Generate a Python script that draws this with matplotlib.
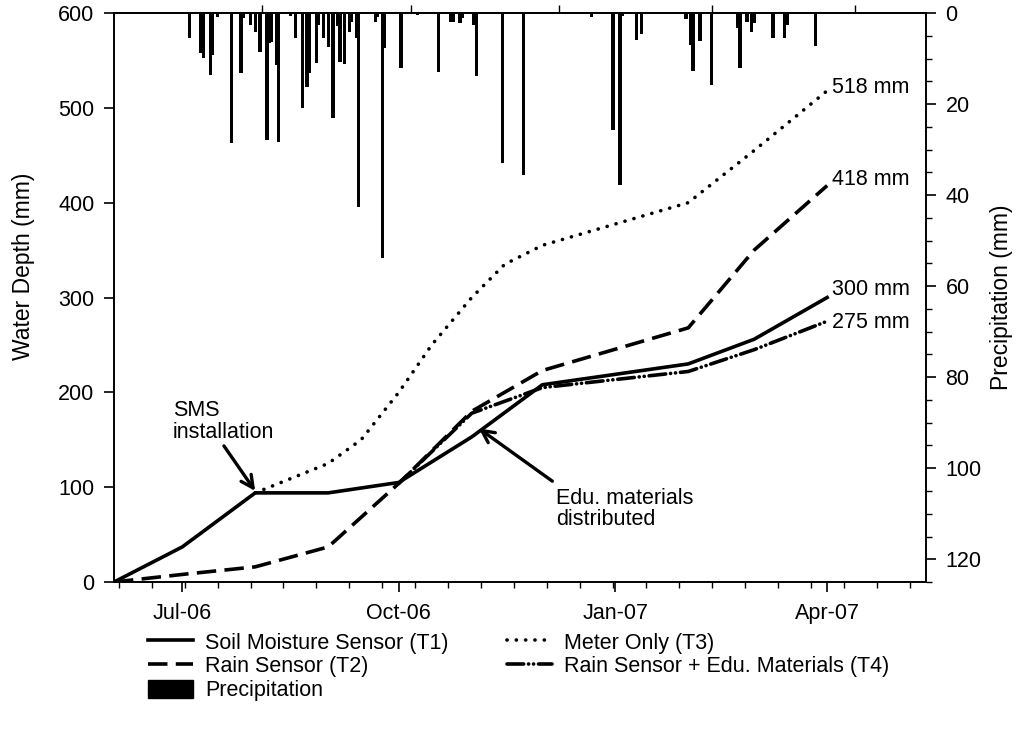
import matplotlib
matplotlib.use('Agg')
import matplotlib.pyplot as plt
import matplotlib.dates as mdates
import matplotlib.ticker as mticker
import pandas as pd
from matplotlib.patches import Patch

plt.rcParams['font.family'] = ['Liberation Sans', 'DejaVu Sans']
plt.rcParams['lines.scale_dashes'] = False

# ---------------- data ----------------
t1_dates = ['2006-06-02', '2006-07-01', '2006-08-01', '2006-09-01', '2006-10-01',
            '2006-11-01', '2006-12-01', '2007-02-01', '2007-03-01', '2007-04-01']
t1_vals = [0, 37, 94, 94, 105, 153, 208, 230, 256, 300]

t2_dates = ['2006-06-02', '2006-07-01', '2006-08-01', '2006-09-01', '2006-10-01',
            '2006-11-01', '2006-12-01', '2007-02-01', '2007-03-01', '2007-04-01']
t2_vals = [0, 8, 16, 37, 104, 180, 223, 268, 350, 418]

t3_dates = ['2006-08-01', '2006-09-01', '2006-09-15', '2006-10-01', '2006-10-15',
            '2006-11-01', '2006-11-15', '2006-12-01', '2007-02-01', '2007-03-01',
            '2007-04-01']
t3_vals = [94, 125, 150, 200, 250, 300, 335, 355, 400, 455, 518]

t4_dates = ['2006-10-01', '2006-11-01', '2006-12-01', '2007-02-01', '2007-03-01',
            '2007-04-01']
t4_vals = [104, 178, 205, 222, 245, 275]

end_labels = ['518 mm', '418 mm', '300 mm', '275 mm']
end_label_y = [521, 424, 308, 274]

precip_dates = ['2006-07-04', '2006-07-09', '2006-07-10', '2006-07-13', '2006-07-14',
                '2006-07-16', '2006-07-22', '2006-07-26', '2006-07-27', '2006-07-30',
                '2006-08-01', '2006-08-03', '2006-08-06', '2006-08-07', '2006-08-08',
                '2006-08-10', '2006-08-11', '2006-08-16', '2006-08-18', '2006-08-21',
                '2006-08-23', '2006-08-24', '2006-08-27', '2006-08-28', '2006-08-30',
                '2006-09-01', '2006-09-03', '2006-09-05', '2006-09-06', '2006-09-08',
                '2006-09-10', '2006-09-11', '2006-09-13', '2006-09-14', '2006-09-21',
                '2006-09-22', '2006-09-24', '2006-09-25', '2006-10-02', '2006-10-09',
                '2006-10-18', '2006-10-23', '2006-10-24', '2006-10-27', '2006-10-28',
                '2006-11-02', '2006-11-03', '2006-11-14', '2006-11-23', '2006-12-22',
                '2006-12-31', '2007-01-03', '2007-01-04', '2007-01-10', '2007-01-12',
                '2007-01-31', '2007-02-02', '2007-02-03', '2007-02-06', '2007-02-11',
                '2007-02-22', '2007-02-23', '2007-02-26', '2007-02-28', '2007-03-01',
                '2007-03-09', '2007-03-14', '2007-03-15', '2007-03-27', '2007-04-02']
precip_vals = [5.5, 8.8, 9.9, 13.6, 9.2,
               0.9, 28.6, 13.2, 1.0, 2.6,
               4.2, 8.6, 27.9, 6.6, 6.3,
               11.4, 28.4, 0.7, 5.5, 20.9,
               16.3, 13.2, 11.0, 2.6, 5.5,
               7.4, 23.0, 2.9, 10.7, 11.2,
               4.2, 2.0, 5.5, 42.6, 2.0,
               0.9, 53.8, 7.7, 12.1, 0.4,
               13.0, 2.0, 2.0, 2.3, 1.0,
               2.6, 13.8, 33.0, 35.6, 0.9,
               25.7, 37.8, 0.7, 5.9, 4.6,
               1.3, 7.0, 12.7, 6.2, 15.8,
               3.3, 12.0, 2.0, 4.2, 2.2,
               5.5, 5.5, 2.6, 7.3, 0.3]

x_major = ['2006-07-01', '2006-10-01', '2007-01-01', '2007-04-01']
top_ticks = ['2006-08-04', '2006-10-06', '2006-12-08', '2007-02-11', '2007-04-13']
x_range = ['2006-06-02', '2007-05-13']

D = lambda s: mdates.date2num(pd.to_datetime(s))

# ---------------- figure ----------------
fig = plt.figure(figsize=(10.16, 7.30), dpi=100)
ax = fig.add_axes([0.1122, 0.2027, 0.7992, 0.7795])
ax2 = ax.twinx()

FS = 15.5
LW = 2.6

l1, = ax.plot(pd.to_datetime(t1_dates), t1_vals, color='black', lw=LW,
              solid_joinstyle='miter', label='Soil Moisture Sensor (T1)')
l2, = ax.plot(pd.to_datetime(t2_dates), t2_vals, color='black', lw=LW,
              dashes=(14, 6), label='Rain Sensor (T2)')
l3, = ax.plot(pd.to_datetime(t3_dates), t3_vals, color='black', lw=LW,
              dashes=(0.1, 6.6), dash_capstyle='round', label='Meter Only (T3)')
l4, = ax.plot(pd.to_datetime(t4_dates), t4_vals, color='black', lw=LW,
              dashes=(12, 3.5, 0.1, 3.5, 0.1, 3.5), dash_capstyle='round',
              label='Rain Sensor + Edu. Materials (T4)')

ax2.bar(pd.to_datetime(precip_dates), precip_vals, width=1.4, color='black',
        linewidth=0)

ax.set_xlim(D(x_range[0]), D(x_range[1]))
ax.set_ylim(0, 600)
ax2.set_ylim(125, 0)

for a in (ax, ax2):
    for sp in a.spines.values():
        sp.set_linewidth(1.2)

ax.xaxis.set_major_locator(mticker.FixedLocator([D(s) for s in x_major]))
ax.xaxis.set_major_formatter(mdates.DateFormatter('%b-%y'))
minor = pd.date_range('2006-06-04', x_range[1], freq='14D')
ax.xaxis.set_minor_locator(mticker.FixedLocator(mdates.date2num(minor)))
ax.yaxis.set_major_locator(mticker.MultipleLocator(100))
ax.tick_params(axis='both', which='major', direction='out', length=7, width=1.2,
               labelsize=FS)
ax.tick_params(axis='x', which='major', pad=8)
ax.tick_params(axis='y', which='major', pad=7)
ax.tick_params(axis='x', which='minor', direction='out', length=4, width=1.0)

ax2.yaxis.set_major_locator(mticker.MultipleLocator(20))
ax2.yaxis.set_minor_locator(mticker.MultipleLocator(5))
ax2.tick_params(axis='y', which='major', direction='out', length=7, width=1.2,
                labelsize=FS, pad=7)
ax2.tick_params(axis='y', which='minor', direction='out', length=4, width=1.0)

sec = ax.secondary_xaxis('top')
sec.set_xticks([D(s) for s in top_ticks])
sec.tick_params(axis='x', direction='out', length=6, width=1.0, labeltop=False)
sec.spines['top'].set_linewidth(1.2)

ax.set_ylabel('Water Depth (mm)', fontsize=16.5)
ax.yaxis.set_label_coords(-0.097, 0.555)
ax2.set_ylabel('Precipitation (mm)', fontsize=16.5)
ax2.yaxis.set_label_coords(1.079, 0.5)

for txt, yv in zip(end_labels, end_label_y):
    ax.text(D('2007-04-03'), yv, txt, fontsize=FS, ha='left', va='center')

ax.annotate('SMS\ninstallation', xy=(D('2006-08-01'), 96),
            xytext=(D('2006-06-27'), 169), fontsize=FS, ha='left', va='center',
            linespacing=1.05,
            arrowprops=dict(arrowstyle='->', lw=2.4, color='black',
                            mutation_scale=22, shrinkA=0, shrinkB=0,
                            relpos=(0.5, -0.05)))
ax.annotate('Edu. materials\ndistributed', xy=(D('2006-11-04'), 162),
            xytext=(D('2006-12-07'), 77), fontsize=FS, ha='left', va='center',
            linespacing=1.05,
            arrowprops=dict(arrowstyle='->', lw=2.4, color='black',
                            mutation_scale=22, shrinkA=0, shrinkB=0,
                            relpos=(-0.03, 1.15)))

prec = Patch(facecolor='black', edgecolor='black', label='Precipitation')
handles = [l1, l2, prec, l3, l4]
fig.legend(handles=handles, labels=[h.get_label() for h in handles],
           loc='upper left', bbox_to_anchor=(0.1457, 0.134), ncol=2,
           frameon=False, fontsize=FS, handlelength=2.1, handleheight=0.9,
           handletextpad=0.56, columnspacing=2.7, labelspacing=0.12,
           borderaxespad=0, borderpad=0)

fig.savefig('out.png', dpi=100)
